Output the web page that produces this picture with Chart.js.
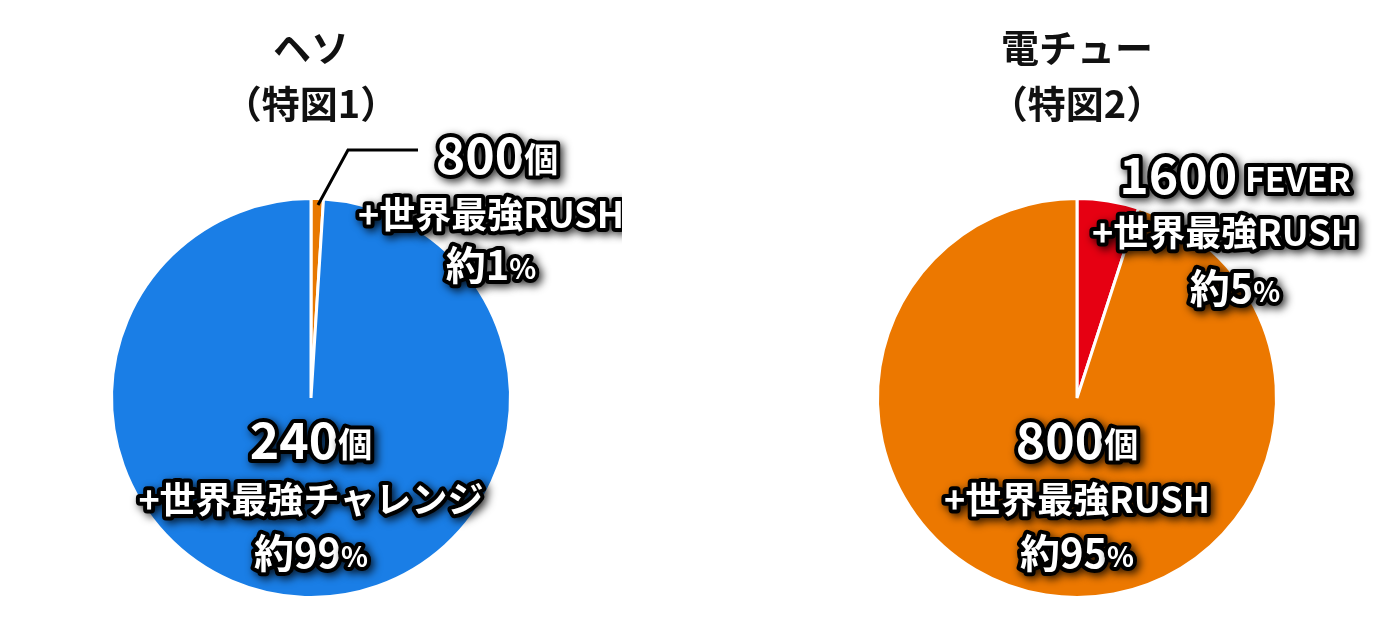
<!DOCTYPE html>
<html><head><meta charset="utf-8">
<script src="https://cdn.jsdelivr.net/npm/chart.js@4"></script>
<style>
body{margin:0;background:#fff;width:1400px;height:637px;position:relative;overflow:hidden;font-family:"Noto Sans CJK JP",sans-serif}
.box{position:absolute;top:0;width:622px;height:637px}
.ttl{position:absolute;top:18px;left:0;width:622px;text-align:center;font-weight:bold;font-size:38px;line-height:56px;color:#111}
</style></head><body>
<div class="box" style="left:0"><div class="ttl">ヘソ<br>（特図1）</div><canvas id="c1" width="622" height="637"></canvas></div>
<div class="box" style="left:766px"><div class="ttl">電チュー<br>（特図2）</div><canvas id="c2" width="622" height="637"></canvas></div>
<script>
const hesoLabels = ["800個+世界最強RUSH", "240個+世界最強チャレンジ"];
const hesoValues = [1, 99];
const hesoColors = ["#e87800", "#1a7ee6"];
const denLabels = ["1600FEVER+世界最強RUSH", "800個+世界最強RUSH"];
const denValues = [5, 95];
const denColors = ["#e60012", "#ec7800"];

// text lines: [dx, dy, [[text, size], ...]] relative to pie centre
const hesoText = [
  [186, -243, [["800", 50], ["個", 34]]],
  [180, -188, [["+世界最強RUSH", 36]]],
  [180, -133, [["約1", 40], ["%", 28]]],
  [0, 42, [["240", 50], ["個", 34]]],
  [0, 97, [["+世界最強チャレンジ", 36]]],
  [0, 155, [["約99", 40], ["%", 28]]]
];
const denText = [
  [158, -223, [["1600", 50], [" FEVER", 34]]],
  [148, -170, [["+世界最強RUSH", 36]]],
  [158, -110, [["約5", 40], ["%", 28]]],
  [0, 42, [["800", 50], ["個", 34]]],
  [0, 97, [["+世界最強RUSH", 36]]],
  [0, 155, [["約95", 40], ["%", 28]]]
];

function labelPlugin(lines, leader) {
  return {
    id: "labels",
    afterDraw(chart) {
      const ctx = chart.ctx;
      const a = chart.chartArea;
      const cx = (a.left + a.right) / 2, cy = (a.top + a.bottom) / 2;
      ctx.save();
      if (leader) {
        ctx.strokeStyle = "#000"; ctx.lineWidth = 3;
        ctx.beginPath();
        leader.forEach((p, i) => i ? ctx.lineTo(cx + p[0], cy + p[1]) : ctx.moveTo(cx + p[0], cy + p[1]));
        ctx.stroke();
      }
      ctx.textBaseline = "middle";
      ctx.lineJoin = "round";
      lines.forEach(([dx, dy, segs]) => {
        let w = 0;
        segs.forEach(s => { ctx.font = "bold " + s[1] + "px 'Noto Sans CJK JP'"; w += ctx.measureText(s[0]).width; });
        let x = cx + dx - w / 2;
        segs.forEach(s => {
          ctx.font = "bold " + s[1] + "px 'Noto Sans CJK JP'";
          const y = cy + dy + (s[1] < 40 ? s[1] * 0.12 : 0);
          ctx.shadowColor = "rgba(0,0,0,0.8)"; ctx.shadowBlur = 8; ctx.shadowOffsetX = 3; ctx.shadowOffsetY = 3;
          ctx.strokeStyle = "#000"; ctx.lineWidth = 8;
          ctx.strokeText(s[0], x, y);
          ctx.shadowColor = "transparent";
          ctx.fillStyle = "#fff";
          ctx.fillText(s[0], x, y);
          x += ctx.measureText(s[0]).width;
        });
      });
      ctx.restore();
    }
  };
}

function makePie(id, labels, values, colors, text, leader) {
  new Chart(document.getElementById(id), {
    type: "pie",
    data: { labels, datasets: [{ data: values, backgroundColor: colors, borderColor: "#fff", borderWidth: 3 }] },
    options: {
      responsive: false, animation: false,
      layout: { padding: { top: 197, bottom: 38 } },
      plugins: { legend: { display: false }, tooltip: { enabled: false } }
    },
    plugins: [labelPlugin(text, leader)]
  });
}
makePie("c1", hesoLabels, hesoValues, hesoColors, hesoText, [[7, -193], [37, -248], [107, -248]]);
makePie("c2", denLabels, denValues, denColors, denText, null);
</script>
</body></html>
